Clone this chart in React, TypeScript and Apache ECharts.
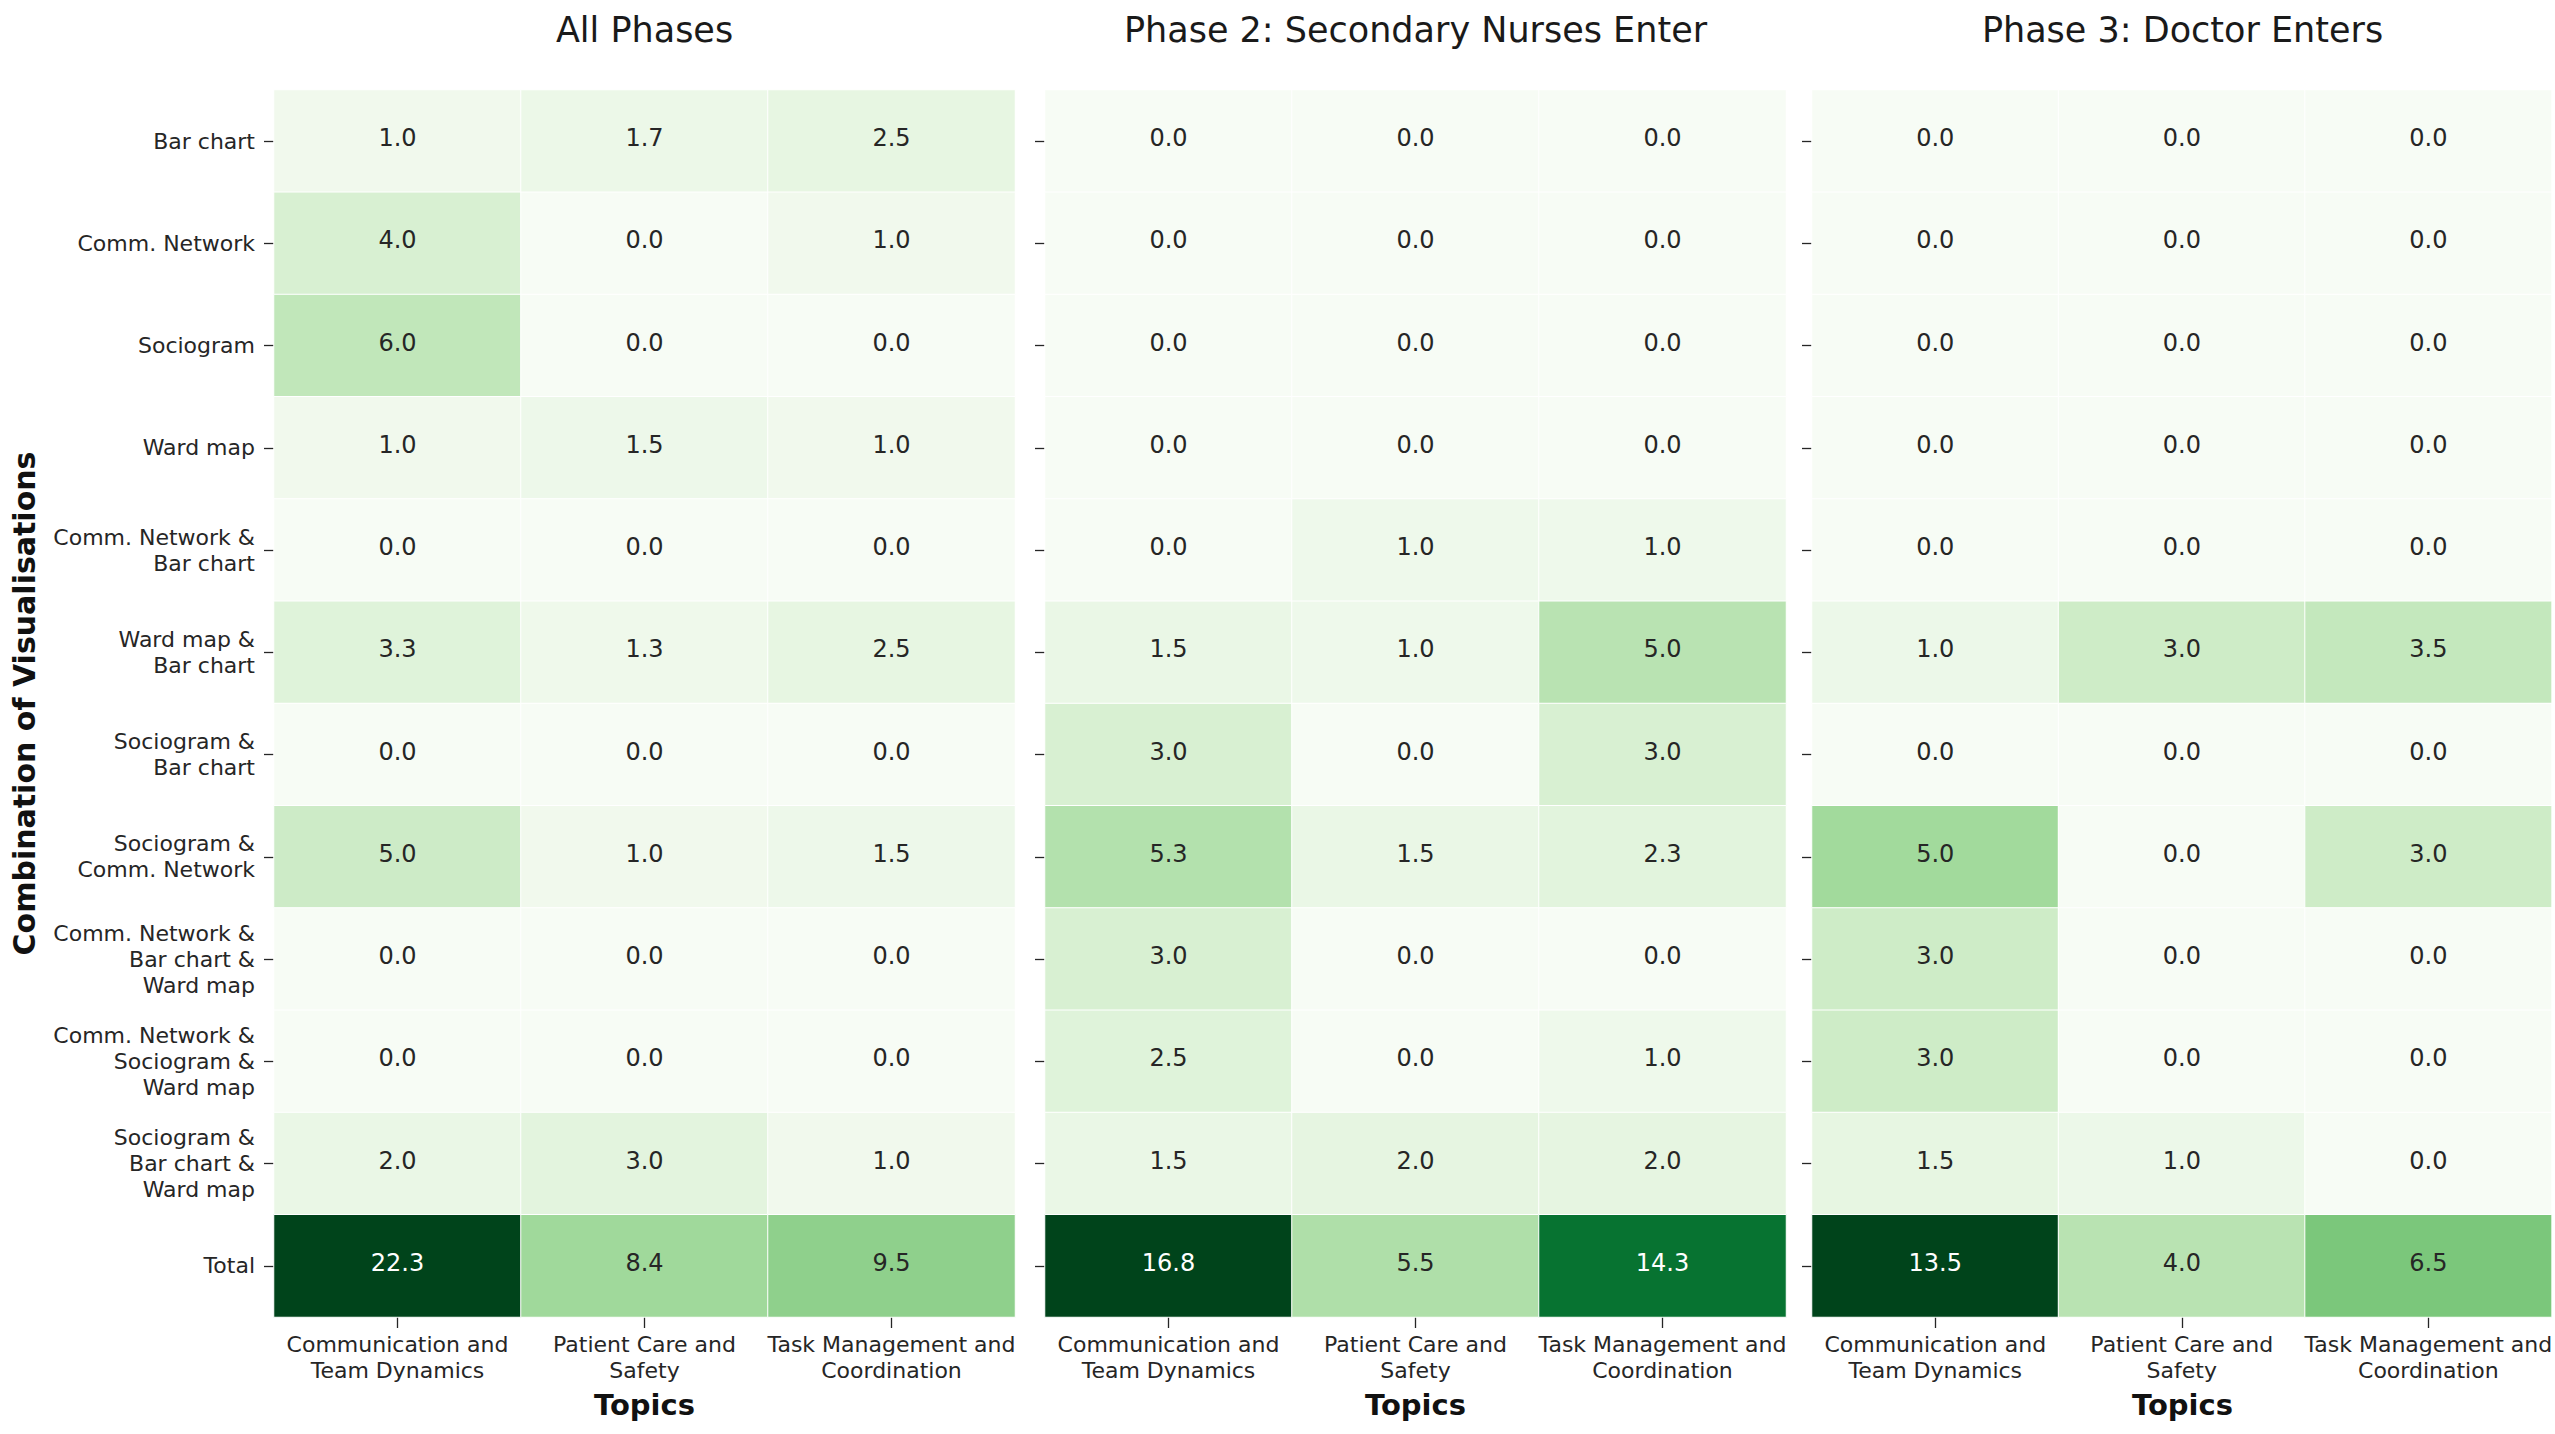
import React, { useEffect, useRef } from "react";
import * as echarts from "echarts";

const rowLabels = [
  "Bar chart",
  "Comm. Network",
  "Sociogram",
  "Ward map",
  "Comm. Network &\nBar chart",
  "Ward map &\nBar chart",
  "Sociogram &\nBar chart",
  "Sociogram &\nComm. Network",
  "Comm. Network &\nBar chart &\nWard map",
  "Comm. Network &\nSociogram &\nWard map",
  "Sociogram &\nBar chart &\nWard map",
  "Total",
];

const topicLabels = [
  "Communication and\nTeam Dynamics",
  "Patient Care and\nSafety",
  "Task Management and\nCoordination",
];

const panelTitles = ["All Phases", "Phase 2: Secondary Nurses Enter", "Phase 3: Doctor Enters"];

// values per panel, per topic column, rows in rowLabels order
const allComm = [1.0, 4.0, 6.0, 1.0, 0.0, 3.3, 0.0, 5.0, 0.0, 0.0, 2.0, 22.3];
const allCare = [1.7, 0.0, 0.0, 1.5, 0.0, 1.3, 0.0, 1.0, 0.0, 0.0, 3.0, 8.4];
const allTask = [2.5, 1.0, 0.0, 1.0, 0.0, 2.5, 0.0, 1.5, 0.0, 0.0, 1.0, 9.5];

const p2Comm = [0.0, 0.0, 0.0, 0.0, 0.0, 1.5, 3.0, 5.3, 3.0, 2.5, 1.5, 16.8];
const p2Care = [0.0, 0.0, 0.0, 0.0, 1.0, 1.0, 0.0, 1.5, 0.0, 0.0, 2.0, 5.5];
const p2Task = [0.0, 0.0, 0.0, 0.0, 1.0, 5.0, 3.0, 2.3, 0.0, 1.0, 2.0, 14.3];

const p3Comm = [0.0, 0.0, 0.0, 0.0, 0.0, 1.0, 0.0, 5.0, 3.0, 3.0, 1.5, 13.5];
const p3Care = [0.0, 0.0, 0.0, 0.0, 0.0, 3.0, 0.0, 0.0, 0.0, 0.0, 1.0, 4.0];
const p3Task = [0.0, 0.0, 0.0, 0.0, 0.0, 3.5, 0.0, 3.0, 0.0, 0.0, 0.0, 6.5];

const panels = [
  [allComm, allCare, allTask],
  [p2Comm, p2Care, p2Task],
  [p3Comm, p3Care, p3Task],
];

const GREENS = [
  "#f7fcf5", "#e5f5e0", "#c7e9c0", "#a1d99b", "#74c476",
  "#41ab5d", "#238b45", "#006d2c", "#00441b",
];

const FONT = "DejaVu Sans";
const TEXT = "#262626";

const gridLefts = [274, 1045, 1812];
const gridWidth = 741;
const gridTop = 90;
const gridHeight = 1227;

export default function App() {
  const ref = useRef<HTMLDivElement>(null);

  useEffect(() => {
    if (!ref.current) return;
    const chart = echarts.init(ref.current, undefined, { renderer: "svg" });

    const grids = gridLefts.map((l) => ({ left: l, top: gridTop, width: gridWidth, height: gridHeight }));

    const xAxes = gridLefts.map((_, i) => ({
      type: "category",
      gridIndex: i,
      data: topicLabels,
      position: "bottom",
      axisLine: { show: false },
      axisTick: { show: true, alignWithLabel: true, length: 11, lineStyle: { color: TEXT, width: 1.3 } },
      axisLabel: {
        interval: 0,
        margin: 14,
        fontSize: 22,
        lineHeight: 26,
        fontFamily: FONT,
        color: TEXT,
      },
      splitLine: { show: false },
    }));

    const yAxes = gridLefts.map((_, i) => ({
      type: "category",
      gridIndex: i,
      data: rowLabels,
      inverse: true,
      axisLine: { show: false },
      axisTick: { show: true, alignWithLabel: true, length: 10, lineStyle: { color: TEXT, width: 1.3 } },
      axisLabel: {
        show: i === 0,
        interval: 0,
        margin: 19,
        fontSize: 22,
        lineHeight: 26,
        fontFamily: FONT,
        color: TEXT,
        align: "right",
        verticalAlign: "middle",
        padding: [0, 0, 6, 0],
      },
      splitLine: { show: false },
    }));

    const visualMaps: any[] = [];
    const series: any[] = [];
    panels.forEach((cols, p) => {
      const max = Math.max(...cols.flat());
      visualMaps.push({
        type: "continuous",
        show: false,
        seriesIndex: p,
        min: 0,
        max,
        dimension: 2,
        inRange: { color: GREENS },
      });
      const data: any[] = [];
      cols.forEach((col, x) => {
        col.forEach((v, y) => {
          data.push({
            value: [x, y, v],
            label: { color: v / max > 0.55 ? "#ffffff" : TEXT },
          });
        });
      });
      series.push({
        type: "heatmap",
        xAxisIndex: p,
        yAxisIndex: p,
        data,
        itemStyle: { borderColor: "#ffffff", borderWidth: 1 },
        label: {
          show: true,
          fontSize: 24,
          fontFamily: FONT,
          offset: [0, -3],
          formatter: (d: any) => Number(d.value[2]).toFixed(1),
        },
        emphasis: { disabled: true },
      });
    });

    const graphics: any[] = panelTitles.map((t, i) => ({
      type: "text",
      x: gridLefts[i] + gridWidth / 2,
      y: 30,
      style: {
        text: t,
        fontSize: 35,
        fontFamily: FONT,
        fill: "#1a1a1a",
        textAlign: "center",
        textVerticalAlign: "middle",
      },
    }));
    gridLefts.forEach((l) => {
      graphics.push({
        type: "text",
        x: l + gridWidth / 2,
        y: 1405,
        style: {
          text: "Topics",
          fontSize: 29,
          fontWeight: "bold",
          fontFamily: FONT,
          fill: "#111",
          textAlign: "center",
          textVerticalAlign: "middle",
        },
      });
    });
    graphics.push({
      type: "text",
      x: 24,
      y: gridTop + gridHeight / 2,
      rotation: Math.PI / 2,
      style: {
        text: "Combination of Visualisations",
        fontSize: 30,
        fontWeight: "bold",
        fontFamily: FONT,
        fill: "#111",
        textAlign: "center",
        textVerticalAlign: "middle",
      },
    });

    chart.setOption({
      animation: false,
      backgroundColor: "#ffffff",
      grid: grids,
      xAxis: xAxes,
      yAxis: yAxes,
      visualMap: visualMaps,
      series,
      graphic: graphics,
    });

    return () => chart.dispose();
  }, []);

  return (
    <div
      ref={ref}
      style={{ position: "fixed", left: 0, top: 0, width: 2555, height: 1434 }}
    />
  );
}
